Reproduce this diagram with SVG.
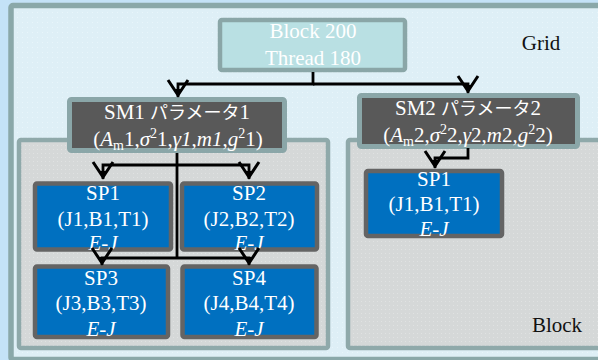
<svg xmlns="http://www.w3.org/2000/svg" width="598" height="360" viewBox="0 0 598 360" font-family="Liberation Serif, DejaVu Serif, serif">
  <defs>
    <pattern id="gridTex" width="5" height="5" patternUnits="userSpaceOnUse">
      <rect width="5" height="5" fill="#deeff6"/>
      <rect x="2" y="2" width="1" height="1" fill="#e9f5fa"/>
    </pattern>
    <pattern id="blockTex" width="4" height="4" patternUnits="userSpaceOnUse">
      <rect width="4" height="4" fill="#d5d8d8"/>
      <rect x="1" y="1" width="1" height="1" fill="#e0e2e2"/>
    </pattern>
    <marker id="vee" viewBox="-20 -13 24 26" refX="0" refY="0" markerWidth="24" markerHeight="26" markerUnits="userSpaceOnUse" orient="auto">
      <path d="M-17,-10 L-2,0 L-17,10" fill="none" stroke="#000" stroke-width="3"/>
      <path d="M-8,-4 L0,0 L-8,4 z" fill="#000"/>
    </marker>
    <style>
      text { font-size: 21px; text-anchor: middle; }
      .w { fill: #ffffff; }
      .k { fill: #111111; }
      .i { font-style: italic; }
      .kana { font-size: 18px; }
      .sub { font-size: 14px; }
      .grid { fill: url(#gridTex); stroke: #8aa8a9; stroke-width: 5.5; }
      .block { fill: url(#blockTex); stroke: #8fa9aa; stroke-width: 4.5; }
      .host { fill: #b9e0e3; stroke: #8aa6a7; stroke-width: 4.5; }
      .sm { fill: #595959; stroke: #8aa6a8; stroke-width: 5; }
      .sp { fill: #0070c0; stroke: #646464; stroke-width: 4.5; }
      .conn { fill: none; stroke: #000; stroke-width: 2.8; }
    </style>
  </defs>

  <!-- page background -->
  <rect width="598" height="360" fill="#c4e2f7"/>

  <!-- grid container -->
  <g id="grid">
    <rect class="grid" x="11" y="5.5" width="600" height="354" rx="2"/>
    <text class="k" x="541" y="50" font-family="Liberation Serif">Grid</text>
  </g>

  <!-- block containers -->
  <g id="block-left">
    <rect class="block" x="19" y="140" width="309" height="208" rx="2"/>
  </g>
  <g id="block-right">
    <rect class="block" x="348" y="140" width="270" height="208" rx="2"/>
    <text class="k" x="557" y="332" font-family="Liberation Serif">Block</text>
  </g>

  <!-- launch configuration -->
  <g id="launch" font-family="Liberation Serif">
    <rect class="host" x="220" y="20" width="185" height="50" rx="2"/>
    <text class="w" x="313" y="38">Block 200</text>
    <text class="w" x="313" y="65">Thread 180</text>
  </g>

  <!-- streaming multiprocessors -->
  <g id="sm1" font-family="Liberation Serif">
    <rect class="sm" x="69.5" y="99.5" width="215" height="51" rx="2"/>
    <text class="w" x="177" y="119">SM1 <tspan class="kana" font-family="Noto Sans CJK JP">パラメータ</tspan>1</text>
    <text class="w" x="178" y="146">(<tspan class="i">A</tspan><tspan class="sub" dy="4">m</tspan><tspan dy="-4">1,</tspan><tspan class="i">σ</tspan><tspan class="sub" dy="-8">2</tspan><tspan dy="8">1,</tspan><tspan class="i">γ1</tspan>,<tspan class="i">m1</tspan>,<tspan class="i">g</tspan><tspan class="sub" dy="-8">2</tspan><tspan dy="8">1)</tspan></text>
  </g>
  <g id="sm2" font-family="Liberation Serif">
    <rect class="sm" x="359.5" y="95.5" width="218" height="51" rx="2"/>
    <text class="w" x="468" y="115">SM2 <tspan class="kana" font-family="Noto Sans CJK JP">パラメータ</tspan>2</text>
    <text class="w" x="468" y="142">(<tspan class="i">A</tspan><tspan class="sub" dy="4">m</tspan><tspan dy="-4">2,</tspan><tspan class="i">σ</tspan><tspan class="sub" dy="-8">2</tspan><tspan dy="8">2,</tspan><tspan class="i">γ</tspan>2,<tspan class="i">m</tspan>2,<tspan class="i">g</tspan><tspan class="sub" dy="-8">2</tspan><tspan dy="8">2)</tspan></text>
  </g>

  <!-- streaming processors -->
  <g id="sm1-sp1" font-family="Liberation Serif">
    <rect class="sp" x="35" y="183.5" width="136" height="66" rx="2"/>
    <text class="w" x="103" y="200">SP1</text>
    <text class="w" x="103" y="226">(J1,B1,T1)</text>
    <text class="w i" x="103" y="250">E-J</text>
  </g>
  <g id="sm1-sp2" font-family="Liberation Serif">
    <rect class="sp" x="182" y="183.5" width="135" height="66" rx="2"/>
    <text class="w" x="249" y="200">SP2</text>
    <text class="w" x="249" y="226">(J2,B2,T2)</text>
    <text class="w i" x="249" y="250">E-J</text>
  </g>
  <g id="sm1-sp3" font-family="Liberation Serif">
    <rect class="sp" x="35" y="266.5" width="133" height="70.5" rx="2"/>
    <text class="w" x="101" y="285">SP3</text>
    <text class="w" x="101" y="310">(J3,B3,T3)</text>
    <text class="w i" x="101" y="336">E-J</text>
  </g>
  <g id="sm1-sp4" font-family="Liberation Serif">
    <rect class="sp" x="182.5" y="266.5" width="134" height="70.5" rx="2"/>
    <text class="w" x="249" y="285">SP4</text>
    <text class="w" x="249" y="310">(J4,B4,T4)</text>
    <text class="w i" x="249" y="336">E-J</text>
  </g>
  <g id="sm2-sp1" font-family="Liberation Serif">
    <rect class="sp" x="366" y="171" width="136" height="65" rx="2"/>
    <text class="w" x="434" y="186">SP1</text>
    <text class="w" x="434" y="211">(J1,B1,T1)</text>
    <text class="w i" x="434" y="236">E-J</text>
  </g>

  <!-- connectors -->
  <g id="connectors">
    <path class="conn" d="M313,72 V84 H178 V97" marker-end="url(#vee)"/>
    <path class="conn" d="M313,84 H468 V93" marker-end="url(#vee)"/>
    <path class="conn" d="M177,153 V258"/>
    <path class="conn" d="M177,165 H103 V179" marker-end="url(#vee)"/>
    <path class="conn" d="M177,165 H249 V179" marker-end="url(#vee)"/>
    <path class="conn" d="M177,258 H102 V265" marker-end="url(#vee)"/>
    <path class="conn" d="M177,258 H249 V265" marker-end="url(#vee)"/>
    <path class="conn" d="M468,148 V158 H435 V168" marker-end="url(#vee)"/>
  </g>
</svg>
